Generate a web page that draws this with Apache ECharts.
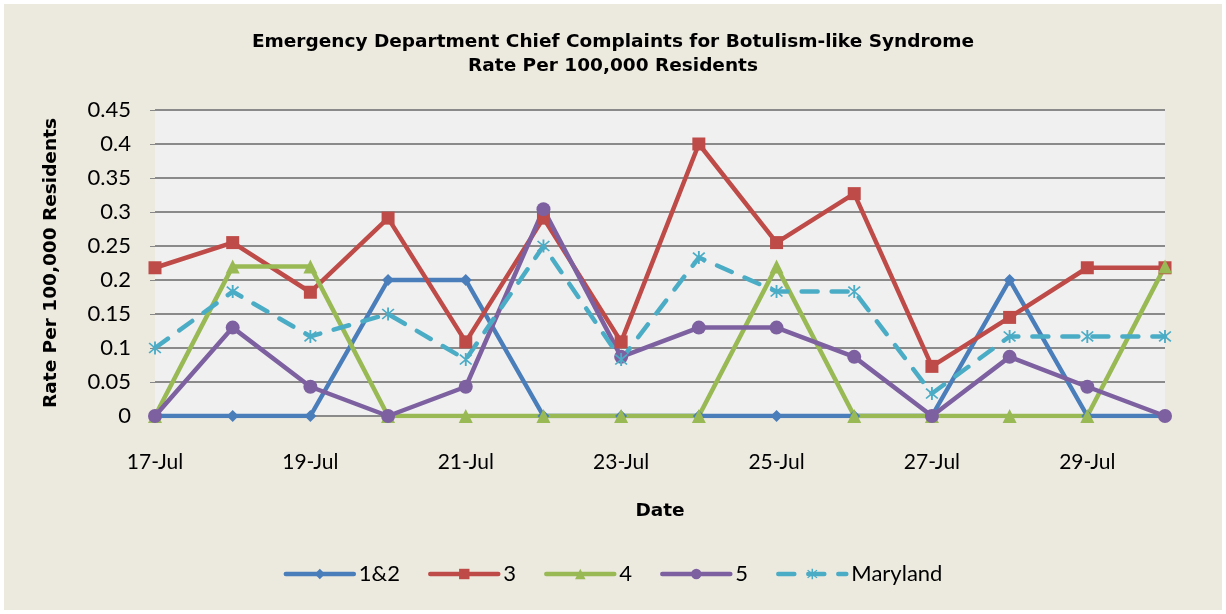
<!DOCTYPE html>
<html>
<head>
<meta charset="utf-8">
<script src="https://cdn.jsdelivr.net/npm/echarts@6/dist/echarts.min.js"></script>
<style>
  html, body { margin: 0; padding: 0; background: #ffffff; }
  #chart { position: absolute; left: 4px; top: 4px; width: 1218px; height: 606px; }
</style>
</head>
<body>
<div id="chart"></div>
<script>
// categories
const dates = ["17-Jul", "18-Jul", "19-Jul", "20-Jul", "21-Jul", "22-Jul", "23-Jul",
  "24-Jul", "25-Jul", "26-Jul", "27-Jul", "28-Jul", "29-Jul", "30-Jul"];
// series values (rate per 100,000)
const region12 = [0, 0, 0, 0.2, 0.2, 0, 0, 0, 0, 0, 0, 0.2, 0, 0];
const region3 = [0.218, 0.255, 0.182, 0.291, 0.109, 0.291, 0.109, 0.4, 0.255, 0.327, 0.073, 0.145, 0.218, 0.218];
const region4 = [0, 0.22, 0.22, 0, 0, 0, 0, 0, 0.22, 0, 0, 0, 0, 0.22];
const region5 = [0, 0.13, 0.043, 0, 0.043, 0.304, 0.087, 0.13, 0.13, 0.087, 0, 0.087, 0.043, 0];
const maryland = [0.1, 0.183, 0.117, 0.15, 0.083, 0.25, 0.083, 0.233, 0.183, 0.183, 0.033, 0.117, 0.117, 0.117];

const asterisk = "path://M4.4 0L5.6 0L5.6 10L4.4 10Z M0.8 1.6L1.6 0.8L9.2 8.4L8.4 9.2Z M8.4 0.8L9.2 1.6L1.6 9.2L0.8 8.4Z";
const boldFont = "DejaVu Sans";
const labelFont = "Lato";

const chart = echarts.init(document.getElementById("chart"));

function line(name, data, color, symbol, size, dashed) {
  return {
    name,
    type: "line",
    data,
    symbol,
    symbolSize: size,
    showAllSymbol: true,
    itemStyle: { color },
    lineStyle: {
      color,
      width: 4.5,
      type: dashed ? [16, 14] : "solid",
      cap: "round",
      join: "round",
    },
    emphasis: { disabled: true },
    animation: false,
  };
}

chart.setOption({
  backgroundColor: "#ece9df",
  textStyle: { fontFamily: labelFont },
  title: {
    text: "Emergency Department Chief Complaints for Botulism-like Syndrome\nRate Per 100,000 Residents",
    left: "center",
    top: 21,
    textStyle: {
      fontFamily: boldFont,
      fontWeight: "bold",
      fontSize: 18.5,
      lineHeight: 24,
      color: "#000",
    },
  },
  grid: {
    left: 151,
    right: 57,
    top: 106,
    bottom: 194,
    outerBoundsMode: "none",
    show: true,
    backgroundColor: "#f0f0f0",
    borderWidth: 0,
  },
  xAxis: {
    type: "category",
    data: dates,
    boundaryGap: false,
    name: "Date",
    nameLocation: "middle",
    nameGap: 86,
    nameTextStyle: { fontFamily: boldFont, fontWeight: "bold", fontSize: 18.5, color: "#000" },
    axisLine: { show: false },
    axisTick: { show: false },
    axisLabel: { interval: 1, fontSize: 21, color: "#000", margin: 36 },
  },
  yAxis: {
    type: "value",
    min: 0,
    max: 0.45,
    interval: 0.05,
    name: "Rate Per 100,000 Residents",
    nameLocation: "middle",
    nameGap: 94,
    nameRotate: 90,
    nameTextStyle: { fontFamily: boldFont, fontWeight: "bold", fontSize: 18.5, color: "#000" },
    axisLine: { show: false },
    axisTick: { show: true, length: 5, inside: false, lineStyle: { color: "#888" } },
    axisLabel: {
      fontSize: 22,
      color: "#000",
      margin: 24,
      formatter: (v) => String(Math.round(v * 100) / 100),
    },
    splitLine: { lineStyle: { color: "#8a8a8a", width: 2 } },
  },
  legend: {
    bottom: 20,
    left: "center",
    itemWidth: 68,
    itemHeight: 13,
    itemGap: 28,
    lineStyle: { width: 4.5 },
    textStyle: { fontSize: 22, color: "#000" },
    data: ["1&2", "3", "4", "5", "Maryland"],
  },
  series: [
    line("1&2", region12, "#4a7ebb", "diamond", 12, false),
    line("3", region3, "#be4b48", "rect", 13, false),
    line("4", region4, "#98b954", "triangle", 14, false),
    line("5", region5, "#7d60a0", "circle", 14, false),
    line("Maryland", maryland, "#4bacc6", asterisk, 13, true),
  ],
});
</script>
</body>
</html>
